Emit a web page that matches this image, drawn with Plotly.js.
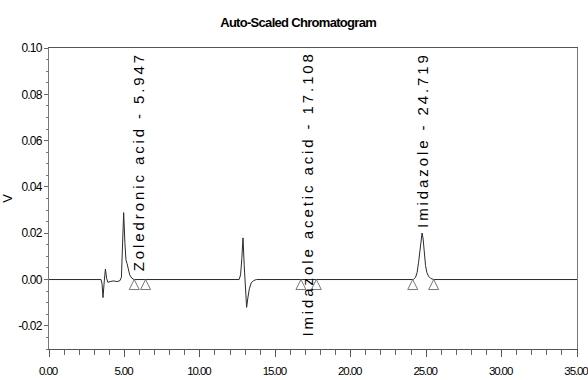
<!DOCTYPE html>
<html>
<head>
<meta charset="utf-8">
<script src="https://cdn.plot.ly/plotly-3.0.1.min.js"></script>
<style>html,body{margin:0;padding:0;background:#fff;}#chart{width:588px;height:380px;}</style>
</head>
<body>
<div id="chart"></div>
<script>
// Chromatogram trace (minutes, volts)
var timeMin = [0, 3.45, 3.52, 3.58, 3.66, 3.74, 3.82, 3.9, 4.1, 4.3, 4.5, 4.7, 4.8, 4.87, 4.95, 5.03, 5.1, 5.17, 5.25, 5.35, 5.5, 5.65,
               12.6, 12.7, 12.78, 12.86, 12.94, 13.02, 13.1, 13.18, 13.28, 13.4, 13.55, 13.75,
               24.15, 24.3, 24.4, 24.5, 24.6, 24.68, 24.73, 24.8, 24.88, 24.96, 25.05, 25.15, 25.3, 25.5, 35];
var signalV = [0, 0, -0.002, -0.0078, -0.001, 0.0045, 0.0005, -0.0012, -0.0008, -0.0006, -0.0009, -0.0005, 0.001, 0.012, 0.0289, 0.016, 0.0085, 0.007, 0.0045, 0.002, 0.0005, 0,
               0, 0.002, 0.009, 0.018, 0.006, -0.006, -0.012, -0.008, -0.004, -0.0015, -0.0005, 0,
               0, 0.001, 0.003, 0.0075, 0.0145, 0.0192, 0.0201, 0.0175, 0.011, 0.006, 0.003, 0.0015, 0.0005, 0, 0];

// Peak identification
var peakNames = ['Zoledronic acid', 'Imidazole acetic acid', 'Imidazole'];
var peakTimes = [5.947, 17.108, 24.719];
var peakStarts = [5.65, 16.70, 24.11];
var peakEnds = [6.40, 17.72, 25.50];

var xTickVals = [0, 5, 10, 15, 20, 25, 30, 35];
var yTickVals = [-0.02, 0, 0.02, 0.04, 0.06, 0.08, 0.10];

var markX = peakStarts.concat(peakEnds);
var markY = markX.map(function(){ return 0; });

function squeeze(s, px){ return '<span style="letter-spacing:' + px + 'px">' + s + '</span>'; }

var traces = [
  {x: timeMin, y: signalV, type: 'scatter', mode: 'lines',
   line: {color: '#2a2a2a', width: 1}, hoverinfo: 'skip'},
  {x: markX, y: markY, type: 'scatter', mode: 'markers',
   marker: {symbol: 'arrow-up-open', size: 10, color: '#777', line: {width: 1, color: '#777'}},
   hoverinfo: 'skip'}
];

var sans = 'Liberation Sans, Arial, sans-serif';

var annotations = peakNames.map(function(n, i){
  return {
    x: peakTimes[i], y: 0.10, xref: 'x', yref: 'y',
    text: squeeze(n + ' - ' + peakTimes[i].toFixed(3), 2.9),
    showarrow: false, textangle: -90, xanchor: 'center', yanchor: 'top', yshift: -2,
    font: {family: sans, size: 15, color: '#000'}
  };
});

var layout = {
  width: 588, height: 380,
  margin: {l: 49, r: 11, t: 48, b: 31},
  paper_bgcolor: '#fff', plot_bgcolor: '#fff',
  showlegend: false,
  title: {text: squeeze('Auto-Scaled Chromatogram', -0.7), x: 0.507, xref: 'container', xanchor: 'center',
          y: 0.942, yref: 'container', yanchor: 'middle',
          font: {family: sans, size: 13, weight: 'bold', color: '#000'}},
  xaxis: {range: [0, 35], tickvals: xTickVals, ticktext: xTickVals.map(function(v){return squeeze(v.toFixed(2), -1.1);}),
          showgrid: false, zeroline: false, showline: true, linecolor: '#555', linewidth: 1, mirror: true,
          ticks: 'outside', ticklen: 7, tickcolor: '#555', ticklabeloverflow: 'allow', ticklabelshift: -1,
          ticklabelstandoff: 4,
          minor: {dtick: 1, ticks: 'outside', ticklen: 5, tickcolor: '#666', showgrid: false},
          tickfont: {family: sans, size: 11.5, color: '#000'}},
  yaxis: {range: [-0.03, 0.10], tickvals: yTickVals, ticktext: yTickVals.map(function(v){return squeeze(v.toFixed(2), -0.8);}),
          showgrid: false, zeroline: false, showline: true, linecolor: '#777', linewidth: 1, mirror: true,
          ticks: 'outside', ticklen: 4, tickcolor: '#666',
          minor: {dtick: 0.005, ticks: 'outside', ticklen: 2, tickcolor: '#777', showgrid: false},
          tickfont: {family: sans, size: 12, color: '#000'},
          title: {text: 'V', standoff: 12, font: {family: sans, size: 13, color: '#000'}}},
  annotations: annotations
};

Plotly.newPlot('chart', traces, layout, {displayModeBar: false, staticPlot: true});
</script>
</body>
</html>
